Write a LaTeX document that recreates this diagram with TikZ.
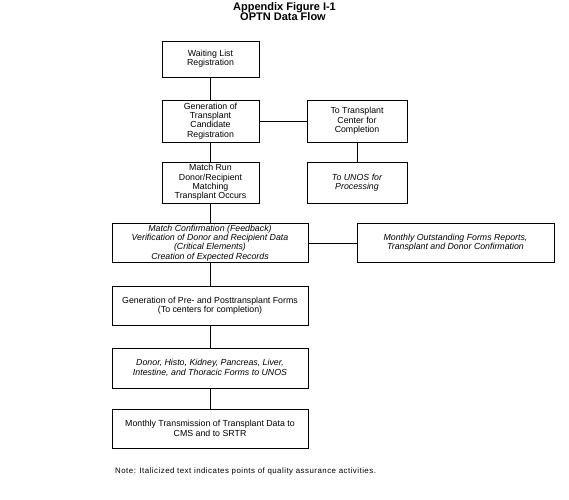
\documentclass[tikz,border=0pt]{standalone}
\usepackage{fontspec}
\setmainfont{Liberation Sans}
\newfontfamily\notefont[LetterSpace=6]{Liberation Sans}
\begin{document}
\begin{tikzpicture}[x=1pt,y=-1pt,
  box/.style={draw=black,line width=0.8pt,inner sep=0pt,align=center,
    font=\fontsize{8.8}{9.4}\selectfont},
  link/.style={draw=black,line width=0.8pt},
  ttl/.style={font=\bfseries\fontsize{11}{12}\selectfont,anchor=base,inner sep=0pt}]
\useasboundingbox (0,0) rectangle (569,499);
\node[ttl] (t1) at (284.5,10) {Appendix Figure I-1};
\node[ttl] (t2) at (283,20.9) {OPTN Data Flow};

\node[box,minimum width=97pt,minimum height=36pt] (b1) at (210.5,59) {Waiting List\\Registration};
\node[box,minimum width=97pt,minimum height=42pt] (b2) at (210.5,121) {Generation of\\Transplant\\Candidate\\Registration};
\node[box,minimum width=97pt,minimum height=41pt] (b3) at (210.5,182.5) {Match Run\\Donor/Recipient\\Matching\\Transplant Occurs};
\node[box,minimum width=100pt,minimum height=42pt] (r1) at (357,121) {To Transplant\\Center for\\Completion};
\node[box,minimum width=100pt,minimum height=41pt] (r2) at (357,182.5) {\itshape To UNOS for\\\itshape Processing};
\node[box,minimum width=196pt,minimum height=39pt] (b5) at (210,243) {\itshape Match Confirmation (Feedback)\\\itshape Verification of Donor and Recipient Data\\\itshape (Critical Elements)\\\itshape Creation of Expected Records};
\node[box,minimum width=197pt,minimum height=39pt] (r3) at (455.5,243) {\itshape Monthly Outstanding Forms Reports,\\\itshape Transplant and Donor Confirmation};
\node[box,minimum width=196pt,minimum height=39pt] (b6) at (210,306) {Generation of Pre- and Posttransplant Forms\\(To centers for completion)};
\node[box,minimum width=196pt,minimum height=40pt] (b7) at (210,368) {\itshape Donor, Histo, Kidney, Pancreas, Liver,\\\itshape Intestine, and Thoracic Forms to UNOS};
\node[box,minimum width=196pt,minimum height=39pt] (b8) at (210,428.5) {Monthly Transmission of Transplant Data to\\CMS and to SRTR};

\node[font=\notefont\fontsize{7.9}{9}\selectfont,anchor=west,inner sep=0pt] (note) at (115,471) {Note: Italicized text indicates points of quality assurance activities.};

\draw[link] (b1.south) -- (b2.north);
\draw[link] (b2.south) -- (b3.north);
\draw[link] (b3.south) -- (b5.north -| b3.south);
\draw[link] (b5.south -| b3.south) -- (b6.north -| b3.south);
\draw[link] (b6.south) -- (b7.north);
\draw[link] (b7.south) -- (b8.north);
\draw[link] (b2.east) -- (r1.west);
\draw[link] (r1.south) -- (r2.north);
\draw[link] (b5.east) -- (r3.west);
\end{tikzpicture}
\end{document}
